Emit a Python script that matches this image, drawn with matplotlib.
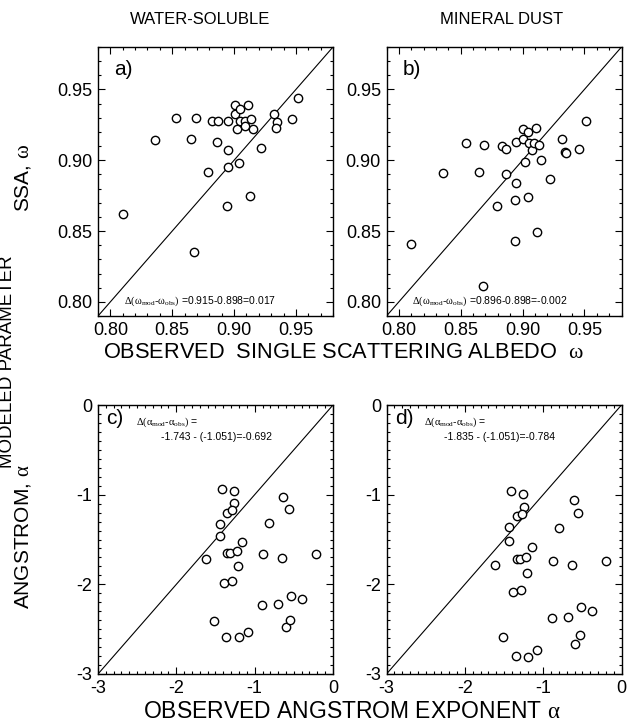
import matplotlib
matplotlib.use("Agg")
import matplotlib.pyplot as plt
from matplotlib.ticker import MultipleLocator, FormatStrFormatter

plt.rcParams["font.family"] = ["Liberation Sans", "DejaVu Sans"]
plt.rcParams["axes.unicode_minus"] = False
plt.rcParams["mathtext.fontset"] = "custom"
plt.rcParams["mathtext.rm"] = "Liberation Serif"
plt.rcParams["mathtext.it"] = "Liberation Serif:italic"

# panel a) water-soluble SSA: observed vs modeled
ssa_ws_obs = [0.810, 0.836, 0.853, 0.869, 0.865, 0.868, 0.879, 0.882, 0.887, 0.886,
              0.895, 0.895, 0.895, 0.894, 0.901, 0.901, 0.902, 0.905, 0.905, 0.904,
              0.909, 0.909, 0.911, 0.914, 0.915, 0.913, 0.922, 0.932, 0.935, 0.934,
              0.947, 0.952]
ssa_ws_mod = [0.862, 0.914, 0.930, 0.930, 0.915, 0.835, 0.892, 0.928, 0.928, 0.913,
              0.928, 0.907, 0.895, 0.868, 0.939, 0.933, 0.922, 0.936, 0.928, 0.898,
              0.928, 0.924, 0.939, 0.929, 0.922, 0.875, 0.909, 0.933, 0.927, 0.923,
              0.929, 0.944]

# panel b) mineral dust SSA
ssa_md_obs = [0.810, 0.836, 0.854, 0.869, 0.865, 0.868, 0.879, 0.883, 0.887, 0.887,
              0.895, 0.895, 0.894, 0.894, 0.900, 0.900, 0.902, 0.904, 0.905, 0.904,
              0.908, 0.909, 0.911, 0.913, 0.915, 0.912, 0.922, 0.932, 0.934, 0.935,
              0.946, 0.951]
ssa_md_mod = [0.841, 0.891, 0.912, 0.911, 0.892, 0.811, 0.868, 0.910, 0.908, 0.890,
              0.913, 0.884, 0.872, 0.843, 0.922, 0.915, 0.899, 0.920, 0.912, 0.874,
              0.907, 0.912, 0.923, 0.911, 0.900, 0.849, 0.887, 0.915, 0.906, 0.905,
              0.908, 0.928]

# panel c) water-soluble Angstrom exponent
ang_ws_obs = [-1.626, -1.519, -1.421, -1.447, -1.447, -1.349, -1.349, -1.311, -1.396, -1.366,
              -1.268, -1.268, -1.285, -1.226, -1.217, -1.162, -1.289, -1.204, -1.085, -0.906,
              -0.898, -0.817, -0.702, -0.638, -0.566, -0.647, -0.604, -0.549, -0.532, -0.400,
              -0.217]
ang_ws_mod = [-1.717, -2.405, -0.933, -1.323, -1.457, -1.201, -1.651, -1.654, -1.981, -2.584,
              -0.959, -1.097, -1.171, -1.628, -1.792, -1.532, -1.959, -2.591, -2.535, -2.230,
              -1.665, -1.320, -2.223, -1.030, -1.164, -1.710, -2.476, -2.394, -2.130, -2.167,
              -1.662]

# panel d) mineral dust Angstrom exponent
ang_md_obs = [-1.618, -1.511, -1.408, -1.433, -1.438, -1.335, -1.335, -1.296, -1.391, -1.352,
              -1.258, -1.245, -1.270, -1.215, -1.206, -1.146, -1.279, -1.189, -1.073, -0.893,
              -0.880, -0.803, -0.687, -0.609, -0.549, -0.631, -0.588, -0.524, -0.515, -0.373,
              -0.193]
ang_md_mod = [-1.788, -2.584, -0.959, -1.364, -1.517, -1.238, -1.721, -1.721, -2.082, -2.796,
              -0.989, -1.134, -1.212, -1.695, -1.874, -1.587, -2.067, -2.807, -2.736, -2.372,
              -1.740, -1.368, -2.368, -1.059, -1.201, -1.788, -2.662, -2.565, -2.257, -2.294,
              -1.740]

W, H = 628, 723
fig = plt.figure(figsize=(W / 100, H / 100), dpi=100)


def box(x0, y0, x1, y1):
    """axes rect from pixel corners (top-left origin)"""
    return [x0 / W, 1 - y1 / H, (x1 - x0) / W, (y1 - y0) / H]


ax_a = fig.add_axes(box(98, 47, 333, 316))
ax_b = fig.add_axes(box(386.5, 47, 621.5, 316))
ax_c = fig.add_axes(box(98, 405, 333, 674))
ax_d = fig.add_axes(box(386.5, 405, 621.5, 674))


def style(ax, lim, major, minor, fmt):
    ax.plot(lim, lim, color="black", lw=0.8, zorder=1)
    ax.set_xlim(lim)
    ax.set_ylim(lim)
    ax.xaxis.set_major_locator(MultipleLocator(major))
    ax.yaxis.set_major_locator(MultipleLocator(major))
    ax.xaxis.set_minor_locator(MultipleLocator(minor))
    ax.yaxis.set_minor_locator(MultipleLocator(minor))
    ax.xaxis.set_major_formatter(FormatStrFormatter(fmt))
    ax.yaxis.set_major_formatter(FormatStrFormatter(fmt))
    ax.tick_params(which="both", direction="in", top=True, right=True, width=0.8)
    ax.tick_params(which="major", length=5, labelsize=13, pad=4)
    ax.tick_params(which="minor", length=2.5)
    for s in ax.spines.values():
        s.set_linewidth(1.0)


for ax, x, y, lab in [(ax_a, ssa_ws_obs, ssa_ws_mod, "a)"), (ax_b, ssa_md_obs, ssa_md_mod, "b)")]:
    style(ax, [0.79, 0.98], 0.05, 0.01, "%.2f")
    ax.plot(x, y, "o", mfc="white", mec="black", ms=6, mew=1.0, zorder=3)
    ax.text(0.07, 0.95, lab, transform=ax.transAxes, fontsize=15, va="top", ha="left")

for ax, x, y, lab in [(ax_c, ang_ws_obs, ang_ws_mod, "c)"), (ax_d, ang_md_obs, ang_md_mod, "d)")]:
    style(ax, [-3, 0], 1, 0.1, "%d")
    ax.plot(x, y, "o", mfc="white", mec="black", ms=6, mew=1.0, zorder=3)
    ax.text(0.035, 0.985, lab, transform=ax.transAxes, fontsize=15, va="top", ha="left")

ax_a.text(0.11, 0.055, r"$\mathrm{\Delta(\omega_{mod}}$-$\mathrm{\omega_{obs})}$ =0.915-0.898=0.017",
          transform=ax_a.transAxes, fontsize=7.5, va="center")
ax_b.text(0.11, 0.055, r"$\mathrm{\Delta(\omega_{mod}}$-$\mathrm{\omega_{obs})}$ =0.896-0.898=-0.002",
          transform=ax_b.transAxes, fontsize=7.5, va="center")
ax_c.text(0.16, 0.935, r"$\mathrm{\Delta(\alpha_{mod}}$-$\mathrm{\alpha_{obs})}$ =",
          transform=ax_c.transAxes, fontsize=7.5, va="center")
ax_c.text(0.27, 0.88, "-1.743 - (-1.051)=-0.692",
          transform=ax_c.transAxes, fontsize=7.5, va="center")
ax_d.text(0.16, 0.935, r"$\mathrm{\Delta(\alpha_{mod}}$-$\mathrm{\alpha_{obs})}$ =",
          transform=ax_d.transAxes, fontsize=7.5, va="center")
ax_d.text(0.245, 0.88, "-1.835 - (-1.051)=-0.784",
          transform=ax_d.transAxes, fontsize=7.5, va="center")

fig.text(200 / W, 1 - 20 / H, "WATER-SOLUBLE", ha="center", va="center", fontsize=12)
fig.text(502 / W, 1 - 20 / H, "MINERAL DUST", ha="center", va="center", fontsize=12)
fig.text(343 / W, 1 - 352 / H, r"OBSERVED  SINGLE SCATTERING ALBEDO  $\mathrm{\omega}$",
         ha="center", va="center", fontsize=15.7)
fig.text(352 / W, 1 - 711 / H, r"OBSERVED ANGSTROM EXPONENT $\mathrm{\alpha}$",
         ha="center", va="center", fontsize=16.5)
fig.text(23 / W, 1 - 178 / H, r"SSA, $\mathrm{\omega}$", rotation=90,
         ha="center", va="center", fontsize=15)
fig.text(23 / W, 1 - 537 / H, r"ANGSTROM, $\mathrm{\alpha}$", rotation=90,
         ha="center", va="center", fontsize=15)
fig.text(8 / W, 1 - 362 / H, "MODELED PARAMETER", rotation=90,
         ha="center", va="center", fontsize=13.5)

fig.savefig("out.png", dpi=100)
